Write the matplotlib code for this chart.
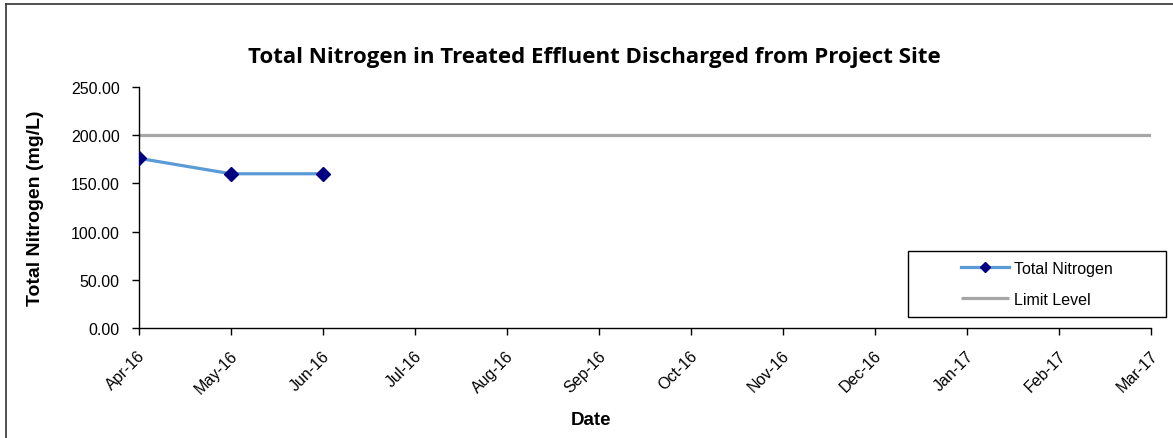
import matplotlib
matplotlib.use('Agg')
import matplotlib.pyplot as plt
import matplotlib.transforms as mtransforms
from matplotlib.lines import Line2D
from matplotlib.patches import Rectangle

# Data
months = ['Apr-16', 'May-16', 'Jun-16', 'Jul-16', 'Aug-16', 'Sep-16',
          'Oct-16', 'Nov-16', 'Dec-16', 'Jan-17', 'Feb-17', 'Mar-17']
nitrogen = [176, 160, 160]
limit = [200] * len(months)

blue = '#5B9BD5'
navy = '#000080'
grey = '#A6A6A6'

plt.rcParams['font.family'] = ['Liberation Sans', 'DejaVu Sans']

W, H = 1173, 439
fig = plt.figure(figsize=(W / 100, H / 100), dpi=100)
ax = fig.add_axes([139 / W, 1 - 329 / H, (1151 - 139) / W, (329 - 88) / H])

xs = list(range(len(months)))
ax.plot(xs, limit, color=grey, lw=2.3, solid_capstyle='butt', label='Limit Level', zorder=2)
ax.plot(xs[:len(nitrogen)], nitrogen, color=blue, lw=2.3, marker='D',
        markersize=7, markerfacecolor=navy, markeredgecolor=navy,
        label='Total Nitrogen', zorder=3)

ax.set_xlim(0, len(months) - 1)
ax.set_ylim(0, 250)
ax.set_yticks([0, 50, 100, 150, 200, 250])
ax.set_yticklabels(['%.2f' % v for v in [0, 50, 100, 150, 200, 250]], fontsize=11.5)
ax.set_xticks(xs)
ax.set_xticklabels(months, rotation=45, ha='right', va='center',
                   rotation_mode='anchor', fontsize=11.5)
ax.tick_params(axis='both', direction='out', length=5, width=1, color='black')
ax.tick_params(axis='x', pad=10)
ax.tick_params(axis='y', pad=9)

# nudge the date labels a little right/down, like the original
offset = mtransforms.ScaledTranslation(4 / 100, -4 / 100, fig.dpi_scale_trans)
for lbl in ax.get_xticklabels():
    lbl.set_transform(lbl.get_transform() + offset)

for s in ['top', 'right']:
    ax.spines[s].set_visible(False)
for s in ['left', 'bottom']:
    ax.spines[s].set_linewidth(1)
    ax.spines[s].set_color('black')

ax.set_ylabel('Total Nitrogen (mg/L)', fontsize=14, fontweight='bold')
ax.yaxis.set_label_coords((44 - 139) / 1012, 0.5)
ax.set_xlabel('Date', fontsize=13.5, fontweight='bold')
ax.xaxis.set_label_coords((591 - 139) / 1012, (329 - 412) / 241)

fig.text(594 / W, 1 - 57 / H,
         'Total Nitrogen in Treated Effluent Discharged from Project Site',
         family='Open Sans', fontweight='bold', fontsize=16,
         ha='center', va='center')

# Legend with a separate frame box
handles, labels = ax.get_legend_handles_labels()
leg = ax.legend(handles[::-1], labels[::-1], loc='center',
                bbox_to_anchor=((1037 - 139) / 1012, (329 - 285) / 241),
                frameon=False, fontsize=11.5, handlelength=3.0,
                handletextpad=0.35, labelspacing=1.0, markerscale=0.7)
ax.add_patch(Rectangle(((908 - 139) / 1012, (329 - 318) / 241),
                       (1166 - 908) / 1012, (318 - 252) / 241,
                       transform=ax.transAxes, fill=False, edgecolor='black',
                       lw=1, clip_on=False, zorder=5))

# outer chart border (top and left edges visible)
fig.add_artist(Line2D([6 / W, 6 / W], [0, 1 - 5 / H], color='#333333', lw=1.2))
fig.add_artist(Line2D([6 / W, 1], [1 - 5 / H, 1 - 5 / H], color='#333333', lw=1.2))

fig.savefig('out.png', dpi=100)
